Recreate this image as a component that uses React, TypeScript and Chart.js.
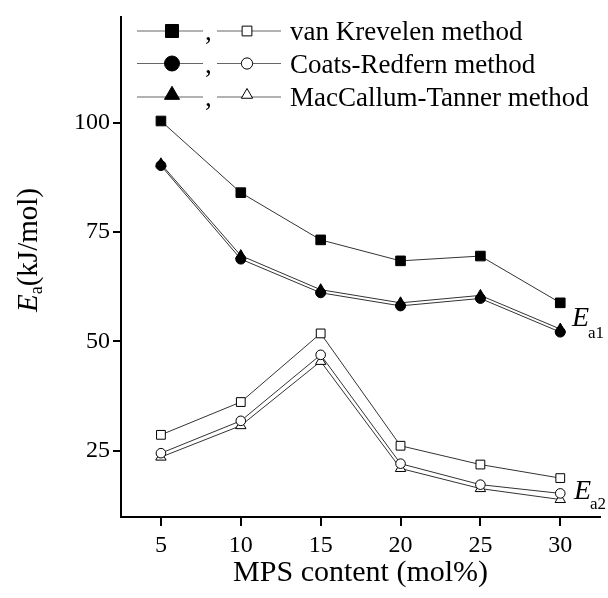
import React, { useEffect, useRef } from "react";
import { Chart, registerables } from "chart.js";

Chart.register(...registerables);

const mpsContent = [5, 10, 15, 20, 25, 30];
const vanKrevelenEa1 = [100.4, 84.0, 73.2, 68.4, 69.5, 58.8];
const coatsRedfernEa1 = [90.2, 68.8, 61.1, 58.1, 59.8, 52.1];
const macCallumEa1 = [90.6, 69.6, 61.8, 58.8, 60.5, 52.8];
const vanKrevelenEa2 = [28.6, 36.1, 51.8, 26.1, 21.8, 18.7];
const coatsRedfernEa2 = [24.4, 31.8, 46.9, 22.0, 17.2, 15.2];
const macCallumEa2 = [23.5, 30.7, 45.4, 20.9, 16.3, 13.8];
const xTicks = [5, 10, 15, 20, 25, 30];
const yTicks = [25, 50, 75, 100];
const legendLabels = ["van Krevelen method", "Coats-Redfern method", "MacCallum-Tanner method"];
const legendShapes = ["rect", "circle", "triangle"];

const SERIF = "'Liberation Serif', 'DejaVu Serif', serif";

function pts(ys: number[]) {
  return mpsContent.map((x, i) => ({ x, y: ys[i] }));
}

function drawMarker(ctx: CanvasRenderingContext2D, shape: string, x: number, y: number, r: number, filled: boolean) {
  ctx.beginPath();
  if (shape === "rect") {
    const s = r * Math.SQRT1_2;
    ctx.rect(x - s, y - s, 2 * s, 2 * s);
  } else if (shape === "circle") {
    ctx.arc(x, y, r, 0, Math.PI * 2);
  } else {
    let rad = 0;
    ctx.moveTo(x + Math.sin(rad) * r, y - Math.cos(rad) * r);
    rad += (2 * Math.PI) / 3;
    ctx.lineTo(x + Math.sin(rad) * r, y - Math.cos(rad) * r);
    rad += (2 * Math.PI) / 3;
    ctx.lineTo(x + Math.sin(rad) * r, y - Math.cos(rad) * r);
    ctx.closePath();
  }
  ctx.fillStyle = filled ? "#000" : "#fff";
  ctx.fill();
  ctx.strokeStyle = "#000";
  ctx.lineWidth = 1;
  ctx.stroke();
}

const annotationPlugin = {
  id: "customText",
  afterDraw(chart: any) {
    const ctx: CanvasRenderingContext2D = chart.ctx;
    ctx.save();
    // y axis title
    ctx.translate(27, 250);
    ctx.rotate(-Math.PI / 2);
    ctx.fillStyle = "#000";
    ctx.textBaseline = "alphabetic";
    const big = "29px " + SERIF;
    const bigI = "italic 29px " + SERIF;
    const small = "18px " + SERIF;
    ctx.font = bigI;
    const wE = ctx.measureText("E").width;
    ctx.font = small;
    const wa = ctx.measureText("a").width;
    ctx.font = big;
    const wr = ctx.measureText("(kJ/mol)").width;
    const total = wE + wa + wr;
    let u = -total / 2;
    ctx.textAlign = "left";
    ctx.font = bigI;
    ctx.fillText("E", u, 10);
    u += wE;
    ctx.font = small;
    ctx.fillText("a", u, 15);
    u += wa;
    ctx.font = big;
    ctx.fillText("(kJ/mol)", u, 10);
    ctx.restore();

    // Ea1 / Ea2 labels
    ctx.save();
    ctx.fillStyle = "#000";
    ctx.textAlign = "left";
    ctx.textBaseline = "alphabetic";
    ctx.font = "italic 28px " + SERIF;
    ctx.fillText("E", 572, 326);
    ctx.fillText("E", 574, 499);
    ctx.font = "17px " + SERIF;
    ctx.fillText("a1", 588, 338);
    ctx.fillText("a2", 590, 509);
    ctx.restore();

    // Legend
    ctx.save();
    const rows = [31, 63.5, 97];
    const rFilled = [9.2, 7.5, 8.7];
    rows.forEach((y, i) => {
      ctx.strokeStyle = "#666";
      ctx.lineWidth = 1.2;
      ctx.beginPath();
      ctx.moveTo(137, y);
      ctx.lineTo(203, y);
      ctx.moveTo(217, y);
      ctx.lineTo(281, y);
      ctx.stroke();
      const shape = legendShapes[i];
      drawMarker(ctx, shape, 172, shape === "triangle" ? y - 2 : y, rFilled[i], true);
      drawMarker(ctx, shape, 247, shape === "triangle" ? y - 2 : y, rFilled[i] * 0.75, false);
      ctx.fillStyle = "#000";
      ctx.font = "27px " + SERIF;
      ctx.textAlign = "left";
      ctx.textBaseline = "alphabetic";
      ctx.fillText(",", 205, y + 9);
      ctx.fillText(legendLabels[i], 290, y + 9);
    });
    ctx.restore();
  },
};

export default function App() {
  const ref = useRef<HTMLCanvasElement>(null);
  useEffect(() => {
    if (!ref.current) return;
    const lineColor = "#333";
    const mk = (data: number[], shape: string, filled: boolean, r: number) => ({
      data: pts(data),
      borderColor: lineColor,
      borderWidth: 1,
      pointStyle: shape,
      pointRadius: r,
      pointBackgroundColor: filled ? "#000" : "#fff",
      pointBorderColor: "#000",
      pointBorderWidth: 1,
      fill: false,
      tension: 0,
    });
    const chart = new Chart(ref.current, {
      type: "line",
      data: {
        datasets: [
          mk(vanKrevelenEa1, "rect", true, 6.8),
          mk(coatsRedfernEa1, "circle", true, 5),
          mk(macCallumEa1, "triangle", true, 6),
          mk(vanKrevelenEa2, "rect", false, 6.2),
          mk(coatsRedfernEa2, "circle", false, 4.8),
          mk(macCallumEa2, "triangle", false, 6),
        ],
      },
      plugins: [annotationPlugin],
      options: {
        responsive: false,
        animation: false,
        layout: { padding: { top: 13, right: 6, left: 0, bottom: 0 } },
        plugins: { legend: { display: false }, tooltip: { enabled: false } },
        scales: {
          x: {
            type: "linear",
            min: 2.5,
            max: 32.5,
            afterBuildTicks: (s: any) => {
              s.ticks = xTicks.map((v) => ({ value: v }));
            },
            afterFit: (s: any) => {
              s.height = 81;
            },
            grid: { display: true, drawOnChartArea: false, drawTicks: true, tickLength: 9, color: "#000", lineWidth: 2 },
            border: { display: true, color: "#000", width: 2 },
            ticks: { color: "#000", font: { family: SERIF, size: 24 }, padding: 5, maxRotation: 0 },
            title: {
              display: true,
              text: "MPS content (mol%)",
              color: "#000",
              font: { family: SERIF, size: 30 },
              padding: { top: 0, bottom: 7 },
            },
          },
          y: {
            type: "linear",
            min: 9.8,
            max: 124.1,
            afterBuildTicks: (s: any) => {
              s.ticks = yTicks.map((v) => ({ value: v }));
            },
            afterFit: (s: any) => {
              s.width = 121;
            },
            grid: { display: true, drawOnChartArea: false, drawTicks: true, tickLength: 8, color: "#000", lineWidth: 2 },
            border: { display: true, color: "#000", width: 2 },
            ticks: { color: "#000", font: { family: SERIF, size: 24 }, padding: 3 },
          },
        },
      },
    } as any);
    return () => chart.destroy();
  }, []);
  return (
    <div style={{ position: "absolute", left: 0, top: 0, width: 608, height: 598 }}>
      <canvas ref={ref} width={608} height={598} style={{ display: "block" }} />
    </div>
  );
}
